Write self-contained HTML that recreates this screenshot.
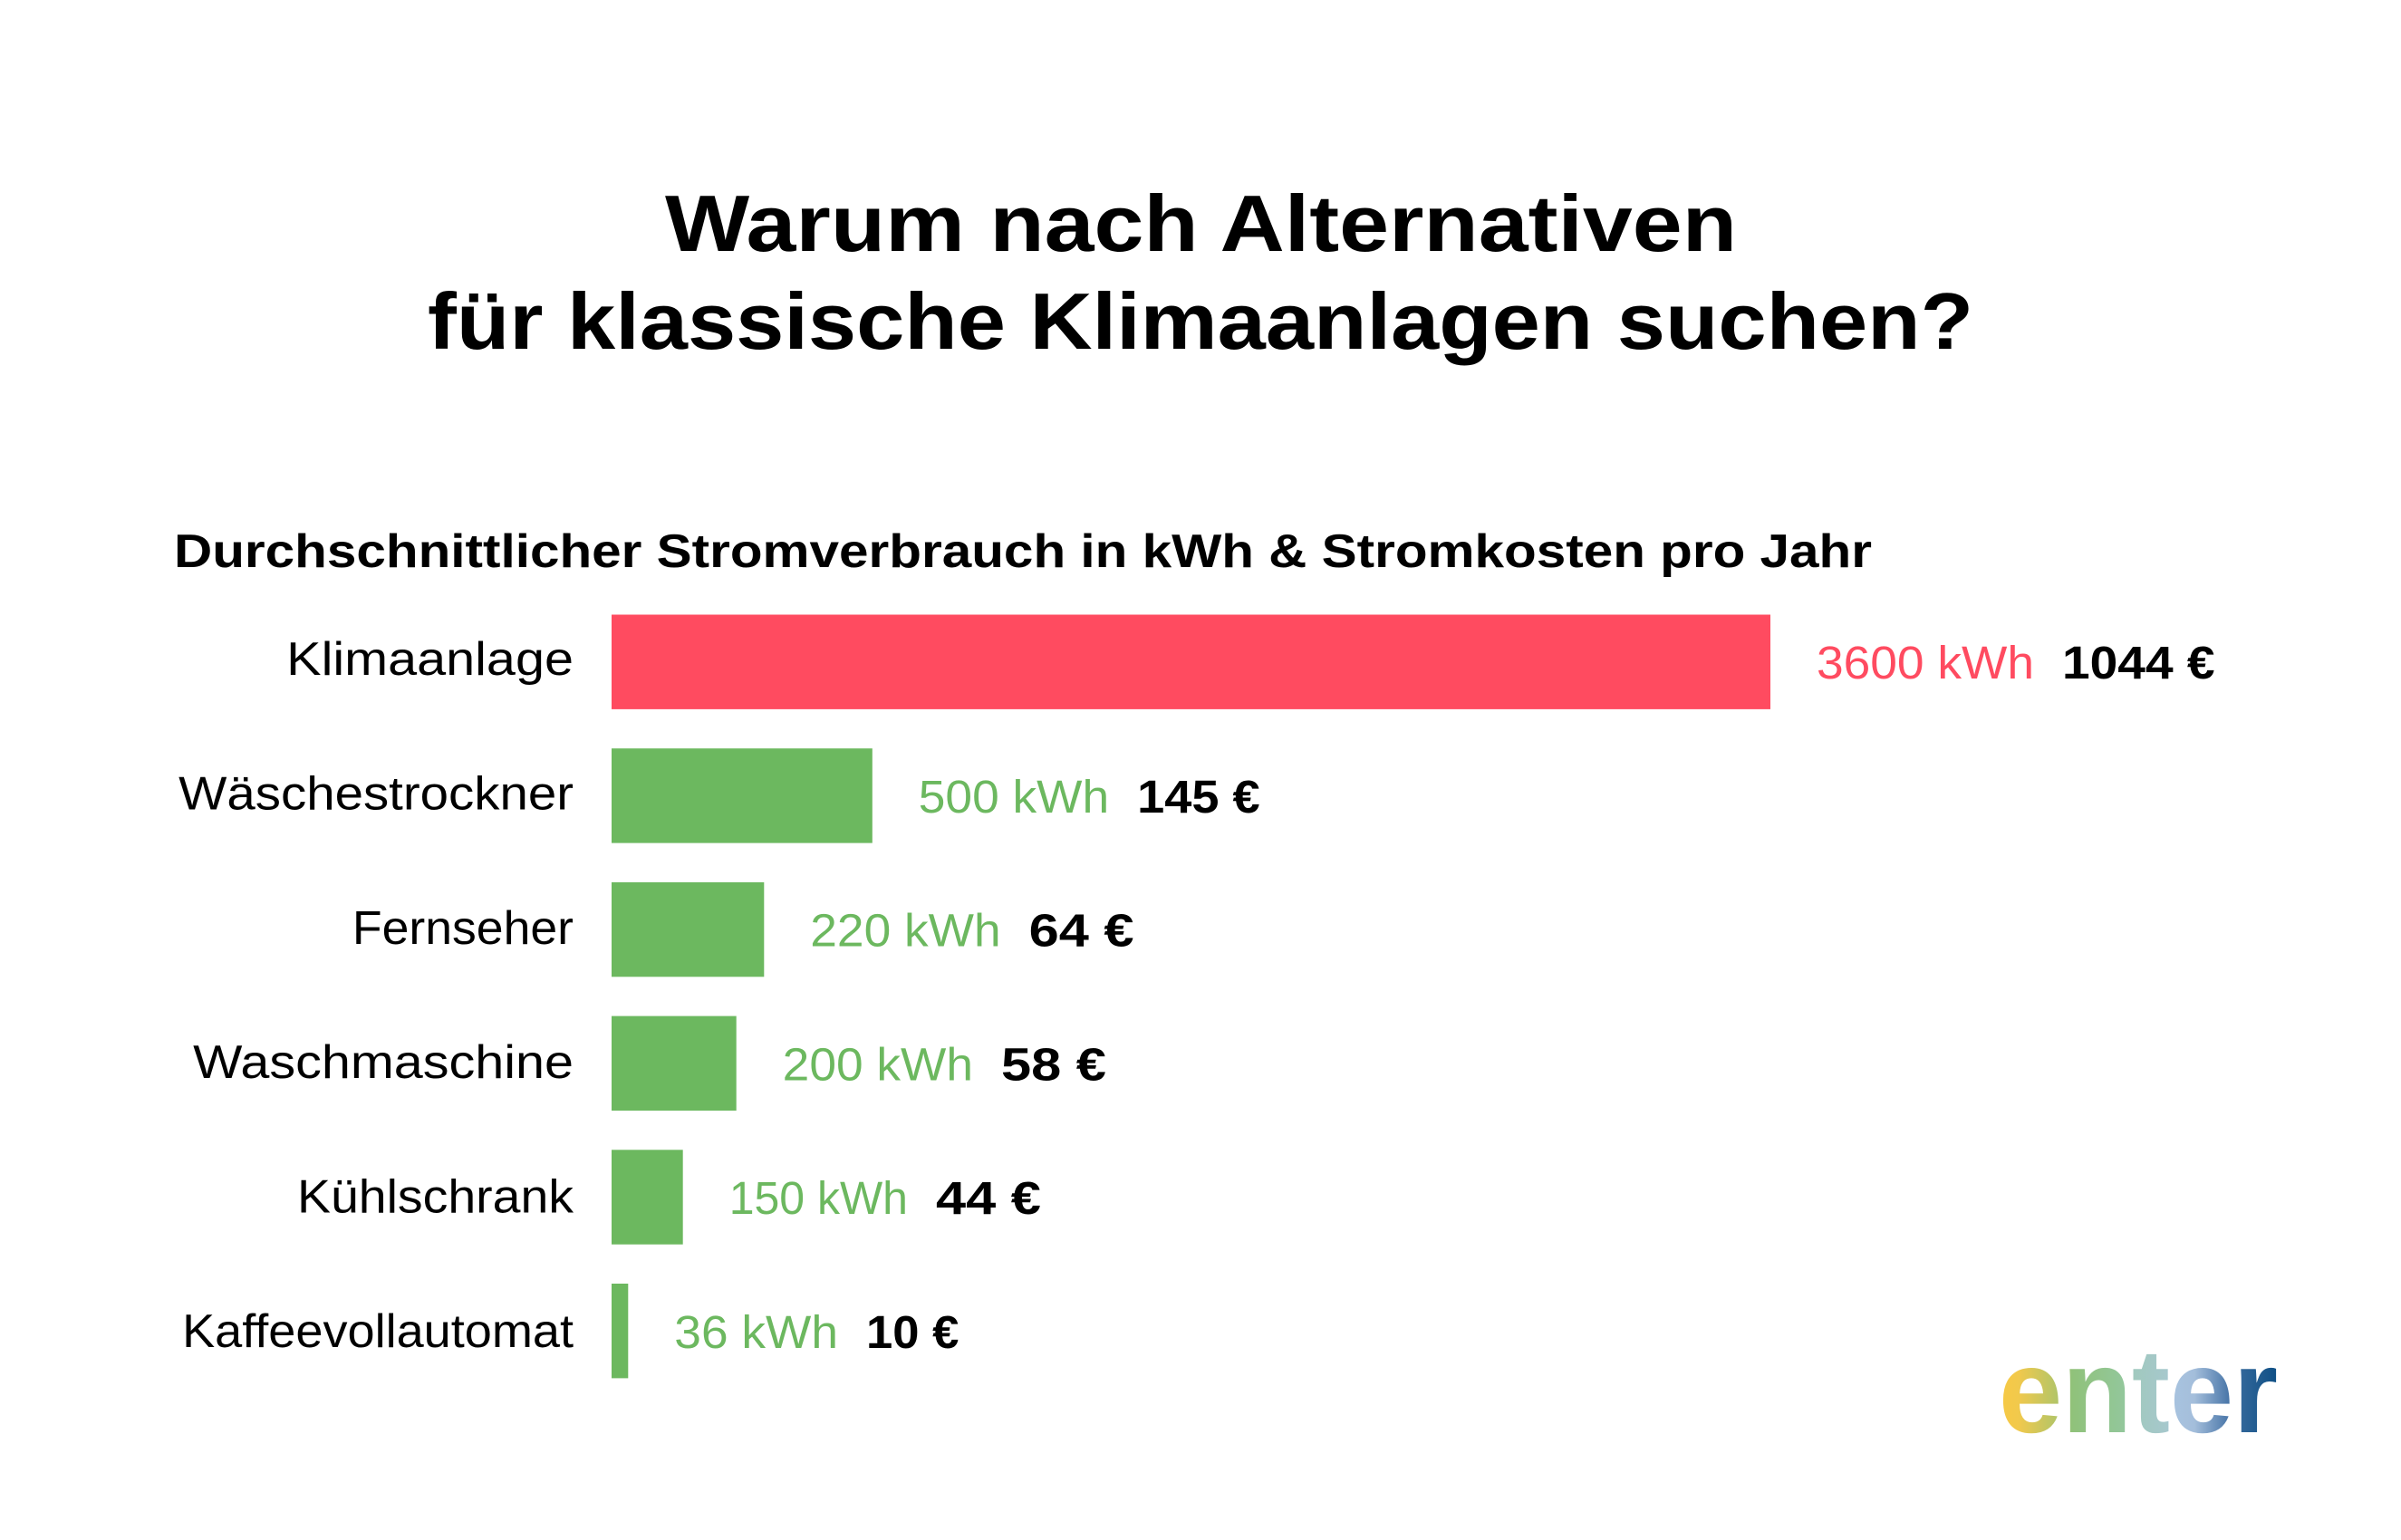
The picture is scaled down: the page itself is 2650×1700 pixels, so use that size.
<!DOCTYPE html>
<html lang="de">
<head>
<meta charset="utf-8">
<title>Warum nach Alternativen für klassische Klimaanlagen suchen?</title>
<style>
  html, body { margin: 0; padding: 0; background: #ffffff; }
  svg { display: block; }
  text { font-family: "Liberation Sans", sans-serif; }
</style>
</head>
<body>
<svg id="chart" xmlns="http://www.w3.org/2000/svg" width="2650" height="1700" viewBox="0 0 2650 1700">
  <defs>
    <linearGradient id="logo-gradient" gradientUnits="userSpaceOnUse" x1="2209" y1="0" x2="2513" y2="0">
      <stop offset="0" stop-color="#f6c945"/>
      <stop offset="0.06" stop-color="#f2c94c"/>
      <stop offset="0.224" stop-color="#a9c46c"/>
      <stop offset="0.256" stop-color="#90c27a"/>
      <stop offset="0.45" stop-color="#93c79c"/>
      <stop offset="0.47" stop-color="#a0c9bd"/>
      <stop offset="0.60" stop-color="#a6c8cc"/>
      <stop offset="0.625" stop-color="#a8c3df"/>
      <stop offset="0.70" stop-color="#a4bedb"/>
      <stop offset="0.84" stop-color="#3f6ea3"/>
      <stop offset="0.88" stop-color="#2f6598"/>
      <stop offset="1" stop-color="#0f4f85"/>
    </linearGradient>
  </defs>
  <rect x="0" y="0" width="2650" height="1700" fill="#ffffff"/>
  <text x="734" y="277" font-size="88" font-weight="700" fill="#000000" textLength="1183" lengthAdjust="spacingAndGlyphs">Warum nach Alternativen</text>
  <text x="472" y="385" font-size="88" font-weight="700" fill="#000000" textLength="1706" lengthAdjust="spacingAndGlyphs">für klassische Klimaanlagen suchen?</text>
  <text x="192" y="626" font-size="52" font-weight="700" fill="#000000" textLength="1874" lengthAdjust="spacingAndGlyphs">Durchschnittlicher Stromverbrauch in kWh &amp; Stromkosten pro Jahr</text>
  <g id="plot"></g>
  <text x="2206" y="1581" font-size="132" font-weight="700" fill="url(#logo-gradient)" textLength="308" lengthAdjust="spacingAndGlyphs">enter</text>
</svg>
<script>
// Chart data
const categories = ["Klimaanlage", "Wäschestrockner", "Fernseher", "Waschmaschine", "Kühlschrank", "Kaffeevollautomat"];
const kwhValues = [3600, 500, 220, 200, 150, 36];
const euroValues = [1044, 145, 64, 58, 44, 10];
// The source chart does not draw bars to a common scale: each bar is
// exaggerated relative to the Klimaanlage bar by this dimensionless factor.
const barExaggeration = [1, 1.62, 2.153, 1.938, 1.477, 1.43];
const highlightedCategory = "Klimaanlage";

// Axis functions
const AXIS_X0 = 675, PX_PER_KWH = 1279 / 3600;
const ROW_TOP = 678.5, ROW_STEP = 147.7, BAR_HEIGHT = 104.4;
function xScale(v) { return AXIS_X0 + v * PX_PER_KWH; }
function rowTop(i) { return ROW_TOP + ROW_STEP * i; }
function categoryBaseline(i) { return 745 + 148.4 * i; }
function valueBaseline(i) { return 749 + 147.8 * i; }

const SVG_NS = "http://www.w3.org/2000/svg";
const plot = document.getElementById("plot");
const RED = "#ff4b60", GREEN = "#6cb85f";
const CATEGORY_RIGHT = 633, CATEGORY_SIZE = 52, VALUE_SIZE = 51;
const VALUE_GAP = 51, EURO_GAP = 31;
// Font-substitution compensation: horizontal glyph fit per label word.
const categoryFit = { "Klimaanlage": 1.107, "Wäschestrockner": 1.085, "Fernseher": 1.03, "Waschmaschine": 1.106, "Kühlschrank": 1.066, "Kaffeevollautomat": 1.04 };

function makeText(str, size, weight, fill) {
  const t = document.createElementNS(SVG_NS, "text");
  t.textContent = str;
  t.setAttribute("font-size", size);
  t.setAttribute("font-weight", weight);
  t.setAttribute("fill", fill);
  plot.appendChild(t);
  return t;
}
// Fit a label horizontally; the original face draws the digit 1 narrower.
function stretch(t, factor, narrowOne) {
  const ones = narrowOne ? (t.textContent.match(/1/g) || []).length : 0;
  const len = t.getComputedTextLength() * factor - ones * narrowOne;
  t.setAttribute("textLength", len.toFixed(1));
  t.setAttribute("lengthAdjust", "spacingAndGlyphs");
  return len;
}

categories.forEach(function (name, i) {
  const color = name === highlightedCategory ? RED : GREEN;

  const label = makeText(name, CATEGORY_SIZE, 400, "#000000");
  
  
  const labelWidth = stretch(label, categoryFit[name] || 1.07, 0);
  label.setAttribute("x", (CATEGORY_RIGHT - labelWidth).toFixed(1));
  label.setAttribute("y", categoryBaseline(i).toFixed(1));

  const barEnd = xScale(kwhValues[i] * barExaggeration[i]);
  const bar = document.createElementNS(SVG_NS, "rect");
  
  
  bar.setAttribute("x", AXIS_X0);
  bar.setAttribute("y", rowTop(i).toFixed(1));
  bar.setAttribute("width", (barEnd - AXIS_X0).toFixed(1));
  bar.setAttribute("height", BAR_HEIGHT);
  bar.setAttribute("fill", color);
  plot.appendChild(bar);

  const kwhX = barEnd + VALUE_GAP;
  const kwhLabel = makeText(kwhValues[i] + " kWh", VALUE_SIZE, 400, color);
  
  
  kwhLabel.setAttribute("x", kwhX.toFixed(1));
  kwhLabel.setAttribute("y", valueBaseline(i).toFixed(1));
  const kwhWidth = stretch(kwhLabel, 1.045, 13);

  const euroLabel = makeText(euroValues[i] + " €", VALUE_SIZE, 700, "#000000");
  
  
  euroLabel.setAttribute("x", (kwhX + kwhWidth + EURO_GAP).toFixed(1));
  euroLabel.setAttribute("y", valueBaseline(i).toFixed(1));
  stretch(euroLabel, 1.168, 13.6);
});
</script>
</body>
</html>
